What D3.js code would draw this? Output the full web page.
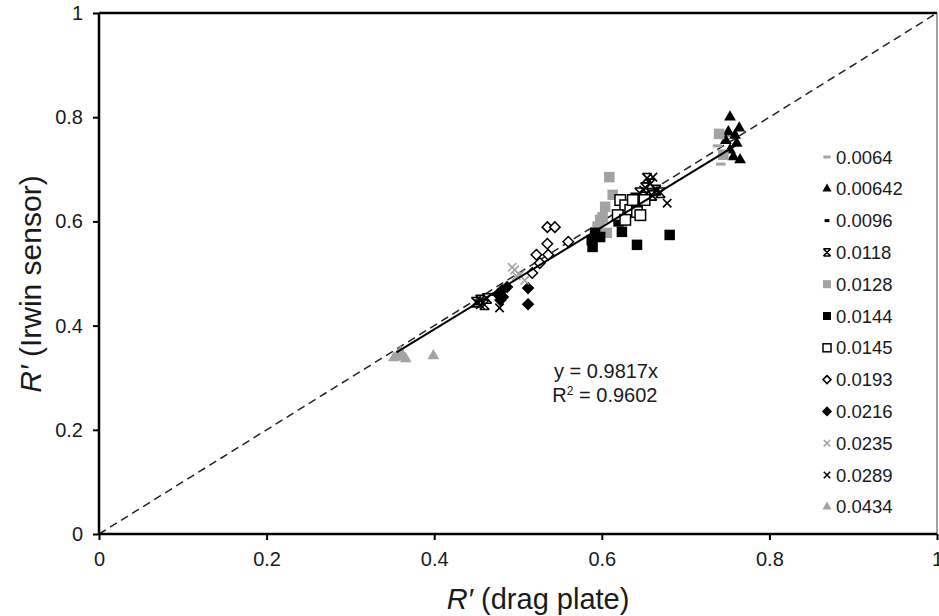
<!DOCTYPE html>
<html lang="en">
<head>
<meta charset="UTF-8">
<title>Irwin sensor vs drag plate</title>
<script src="https://d3js.org/d3.v7.min.js"></script>
<style>
    body { margin: 0; background: #fff; }
    text { font-family: "Liberation Sans", Arial, sans-serif; fill: #1a1a1a; }
    .tick text { font-size: 20px; }
    .axis path { display: none; }
    .axis line { stroke: #000; stroke-width: 2; }
</style>
</head>
<body>
<svg width="939" height="616"></svg>
<script>
    // Data
    const seriesNames = ["0.0064", "0.00642", "0.0096", "0.0118", "0.0128", "0.0144",
        "0.0145", "0.0193", "0.0216", "0.0235", "0.0289", "0.0434"];

    const x0064 = [0.738, 0.745, 0.742, 0.750];
    const y0064 = [0.745, 0.725, 0.710, 0.765];
    const x00642 = [0.753, 0.751, 0.764, 0.761, 0.757, 0.765, 0.753, 0.748, 0.759];
    const y00642 = [0.800, 0.772, 0.779, 0.750, 0.724, 0.718, 0.737, 0.755, 0.765];
    const x0096 = [0.620, 0.635, 0.655, 0.665, 0.470];
    const y0096 = [0.615, 0.630, 0.650, 0.660, 0.460];
    const x0118 = [0.652, 0.658, 0.665, 0.660, 0.645, 0.670, 0.455, 0.460, 0.450, 0.463, 0.625, 0.654, 0.640];
    const y0118 = [0.665, 0.672, 0.660, 0.650, 0.655, 0.655, 0.449, 0.440, 0.445, 0.452, 0.625, 0.683, 0.645];
    const x0128 = [0.609, 0.613, 0.604, 0.601, 0.606, 0.598, 0.595, 0.740, 0.745];
    const y0128 = [0.685, 0.651, 0.628, 0.608, 0.578, 0.603, 0.590, 0.768, 0.728];
    const x0144 = [0.589, 0.588, 0.592, 0.624, 0.642, 0.681, 0.598, 0.620];
    const y0144 = [0.551, 0.564, 0.578, 0.580, 0.555, 0.574, 0.570, 0.600];
    const x0145 = [0.622, 0.628, 0.634, 0.642, 0.646, 0.619, 0.628, 0.637, 0.651];
    const y0145 = [0.641, 0.631, 0.622, 0.618, 0.612, 0.612, 0.603, 0.641, 0.641];
    const x0193 = [0.535, 0.544, 0.535, 0.560, 0.522, 0.536, 0.517, 0.526];
    const y0193 = [0.589, 0.589, 0.557, 0.561, 0.536, 0.536, 0.501, 0.520];
    const x0216 = [0.512, 0.512, 0.481, 0.482, 0.479, 0.487, 0.476];
    const y0216 = [0.472, 0.441, 0.468, 0.455, 0.449, 0.474, 0.460];
    const x0235 = [0.493, 0.496, 0.502, 0.508, 0.498];
    const y0235 = [0.512, 0.507, 0.497, 0.487, 0.495];
    const x0289 = [0.478, 0.678, 0.661, 0.455, 0.650];
    const y0289 = [0.434, 0.635, 0.685, 0.440, 0.660];
    const x0434 = [0.352, 0.357, 0.362, 0.366, 0.360, 0.399];
    const y0434 = [0.338, 0.345, 0.340, 0.336, 0.350, 0.342];

    const xTicks = [0, 0.2, 0.4, 0.6, 0.8, 1];
    const yTicks = [0, 0.2, 0.4, 0.6, 0.8, 1];
    const slope = 0.9817;
    const trendRange = [0.355, 0.76];

    const seriesX = [x0064, x00642, x0096, x0118, x0128, x0144, x0145, x0193, x0216, x0235, x0289, x0434];
    const seriesY = [y0064, y00642, y0096, y0118, y0128, y0144, y0145, y0193, y0216, y0235, y0289, y0434];

    const GRAY = "#a3a3a3";
    // marker style per series
    const styles = [
        { shape: "dash", color: GRAY, w: 9 },
        { shape: "triangle", color: "#000" },
        { shape: "dash", color: "#000", w: 6 },
        { shape: "star", color: "#000" },
        { shape: "square", color: GRAY, fill: true },
        { shape: "square", color: "#000", fill: true },
        { shape: "square", color: "#000", fill: false },
        { shape: "diamond", color: "#000", fill: false },
        { shape: "diamond", color: "#000", fill: true },
        { shape: "cross", color: GRAY },
        { shape: "cross", color: "#000" },
        { shape: "triangle", color: GRAY }
    ];

    const svg = d3.select("svg");
    const margin = { left: 99, right: 2, top: 13, bottom: 82 };
    const width = 939 - margin.left - margin.right;
    const height = 616 - margin.top - margin.bottom;

    const x = d3.scaleLinear().domain([0, 1]).range([0, width]);
    const y = d3.scaleLinear().domain([0, 1]).range([height, 0]);

    const g = svg.append("g").attr("transform", `translate(${margin.left},${margin.top})`);

    // frame: top and right
    g.append("line").attr("x1", 0).attr("x2", width).attr("y1", 0).attr("y2", 0)
        .attr("stroke", "#000").attr("stroke-width", 2.5);
    g.append("line").attr("x1", width).attr("x2", width).attr("y1", 0).attr("y2", height)
        .attr("stroke", "#444").attr("stroke-width", 1);

    // 1:1 dashed line
    g.append("line")
        .attr("x1", x(0)).attr("y1", y(0)).attr("x2", x(1)).attr("y2", y(1))
        .attr("stroke", "#222").attr("stroke-width", 1.5).attr("stroke-dasharray", "8,5");

    // draws a marker of size s at 0,0
    const drawMarker = (sel, st, s) => {
        if (st.shape === "triangle") {
            sel.append("path").attr("d", d3.symbol(d3.symbolTriangle, s * s * 0.55)())
                .attr("fill", st.color);
        } else if (st.shape === "square") {
            sel.append("rect").attr("x", -s / 2).attr("y", -s / 2).attr("width", s).attr("height", s)
                .attr("fill", st.fill ? st.color : "#fff")
                .attr("stroke", st.color).attr("stroke-width", st.fill ? 0 : 1.5);
        } else if (st.shape === "diamond") {
            const r = s * 0.5;
            sel.append("path").attr("d", `M0,${-r}L${r},0L0,${r}L${-r},0Z`)
                .attr("fill", st.fill ? st.color : "#fff")
                .attr("stroke", st.color).attr("stroke-width", 1.5);
        } else if (st.shape === "cross") {
            const r = s * 0.4;
            sel.append("path").attr("d", `M${-r},${-r}L${r},${r}M${-r},${r}L${r},${-r}`)
                .attr("stroke", st.color).attr("stroke-width", 1.6);
        } else if (st.shape === "star") {
            const r = s * 0.45;
            sel.append("path")
                .attr("d", `M${-r},${-r}L${r},${r}M${-r},${r}L${r},${-r}M${-r},${-r}L${r},${-r}M${-r},${r}L${r},${r}`)
                .attr("stroke", st.color).attr("stroke-width", 1.6);
        } else if (st.shape === "dash") {
            const w = st.w * s / 10;
            sel.append("rect").attr("x", -w / 2).attr("y", -1.5).attr("width", w).attr("height", 3)
                .attr("fill", st.color);
        }
    };

    // data points
    seriesNames.forEach((name, i) => {
        const pts = seriesX[i].map((v, j) => [v, seriesY[i][j]]);
        g.append("g").attr("class", "series")
            .selectAll("g")
            .data(pts)
            .enter().append("g")
            .attr("transform", d => `translate(${x(d[0])},${y(d[1])})`)
            .each(function () { drawMarker(d3.select(this), styles[i], 10.5); });
    });

    // trendline
    g.append("line")
        .attr("x1", x(trendRange[0])).attr("y1", y(slope * trendRange[0]))
        .attr("x2", x(trendRange[1])).attr("y2", y(slope * trendRange[1]))
        .attr("stroke", "#000").attr("stroke-width", 2);

    // axes
    g.append("g").attr("class", "axis")
        .attr("transform", `translate(0,${height})`)
        .call(d3.axisBottom(x).tickValues(xTicks).tickSize(6).tickPadding(12).tickFormat(d3.format("")));
    g.append("g").attr("class", "axis")
        .call(d3.axisLeft(y).tickValues(yTicks).tickSize(6).tickPadding(10).tickFormat(d3.format("")));
    g.append("line").attr("x1", 0).attr("x2", width).attr("y1", height).attr("y2", height)
        .attr("stroke", "#000").attr("stroke-width", 2.5);
    g.append("line").attr("x1", 0).attr("x2", 0).attr("y1", 0).attr("y2", height)
        .attr("stroke", "#000").attr("stroke-width", 2.5);

    // equation
    g.append("text").attr("x", x(0.543)).attr("y", y(0.2985)).style("font-size", "20px")
        .text(`y = ${slope}x`);
    const r2 = g.append("text").attr("x", x(0.541)).attr("y", y(0.2525)).style("font-size", "20px");
    r2.append("tspan").text("R");
    r2.append("tspan").attr("dy", -7).style("font-size", "12px").text("2");
    r2.append("tspan").attr("dy", 7).text(" = 0.9602");

    // legend
    const legend = g.append("g").attr("transform", `translate(${827 - margin.left},${157 - margin.top})`);
    seriesNames.forEach((name, i) => {
        const row = legend.append("g").attr("transform", `translate(0,${i * 31.8})`);
        drawMarker(row.append("g"), styles[i], 8);
        row.append("text").attr("x", 9).attr("dy", "0.36em").style("font-size", "18.5px").text(name);
    });

    // axis titles
    const xt = svg.append("text").attr("x", 538).attr("y", 609)
        .attr("text-anchor", "middle").style("font-size", "29px");
    xt.append("tspan").style("font-style", "italic").text("R′");
    xt.append("tspan").text(" (drag plate)");

    const yt = svg.append("text").attr("transform", `translate(41,284) rotate(-90)`)
        .attr("text-anchor", "middle").style("font-size", "30px");
    yt.append("tspan").style("font-style", "italic").text("R′");
    yt.append("tspan").text(" (Irwin sensor)");
</script>
</body>
</html>
